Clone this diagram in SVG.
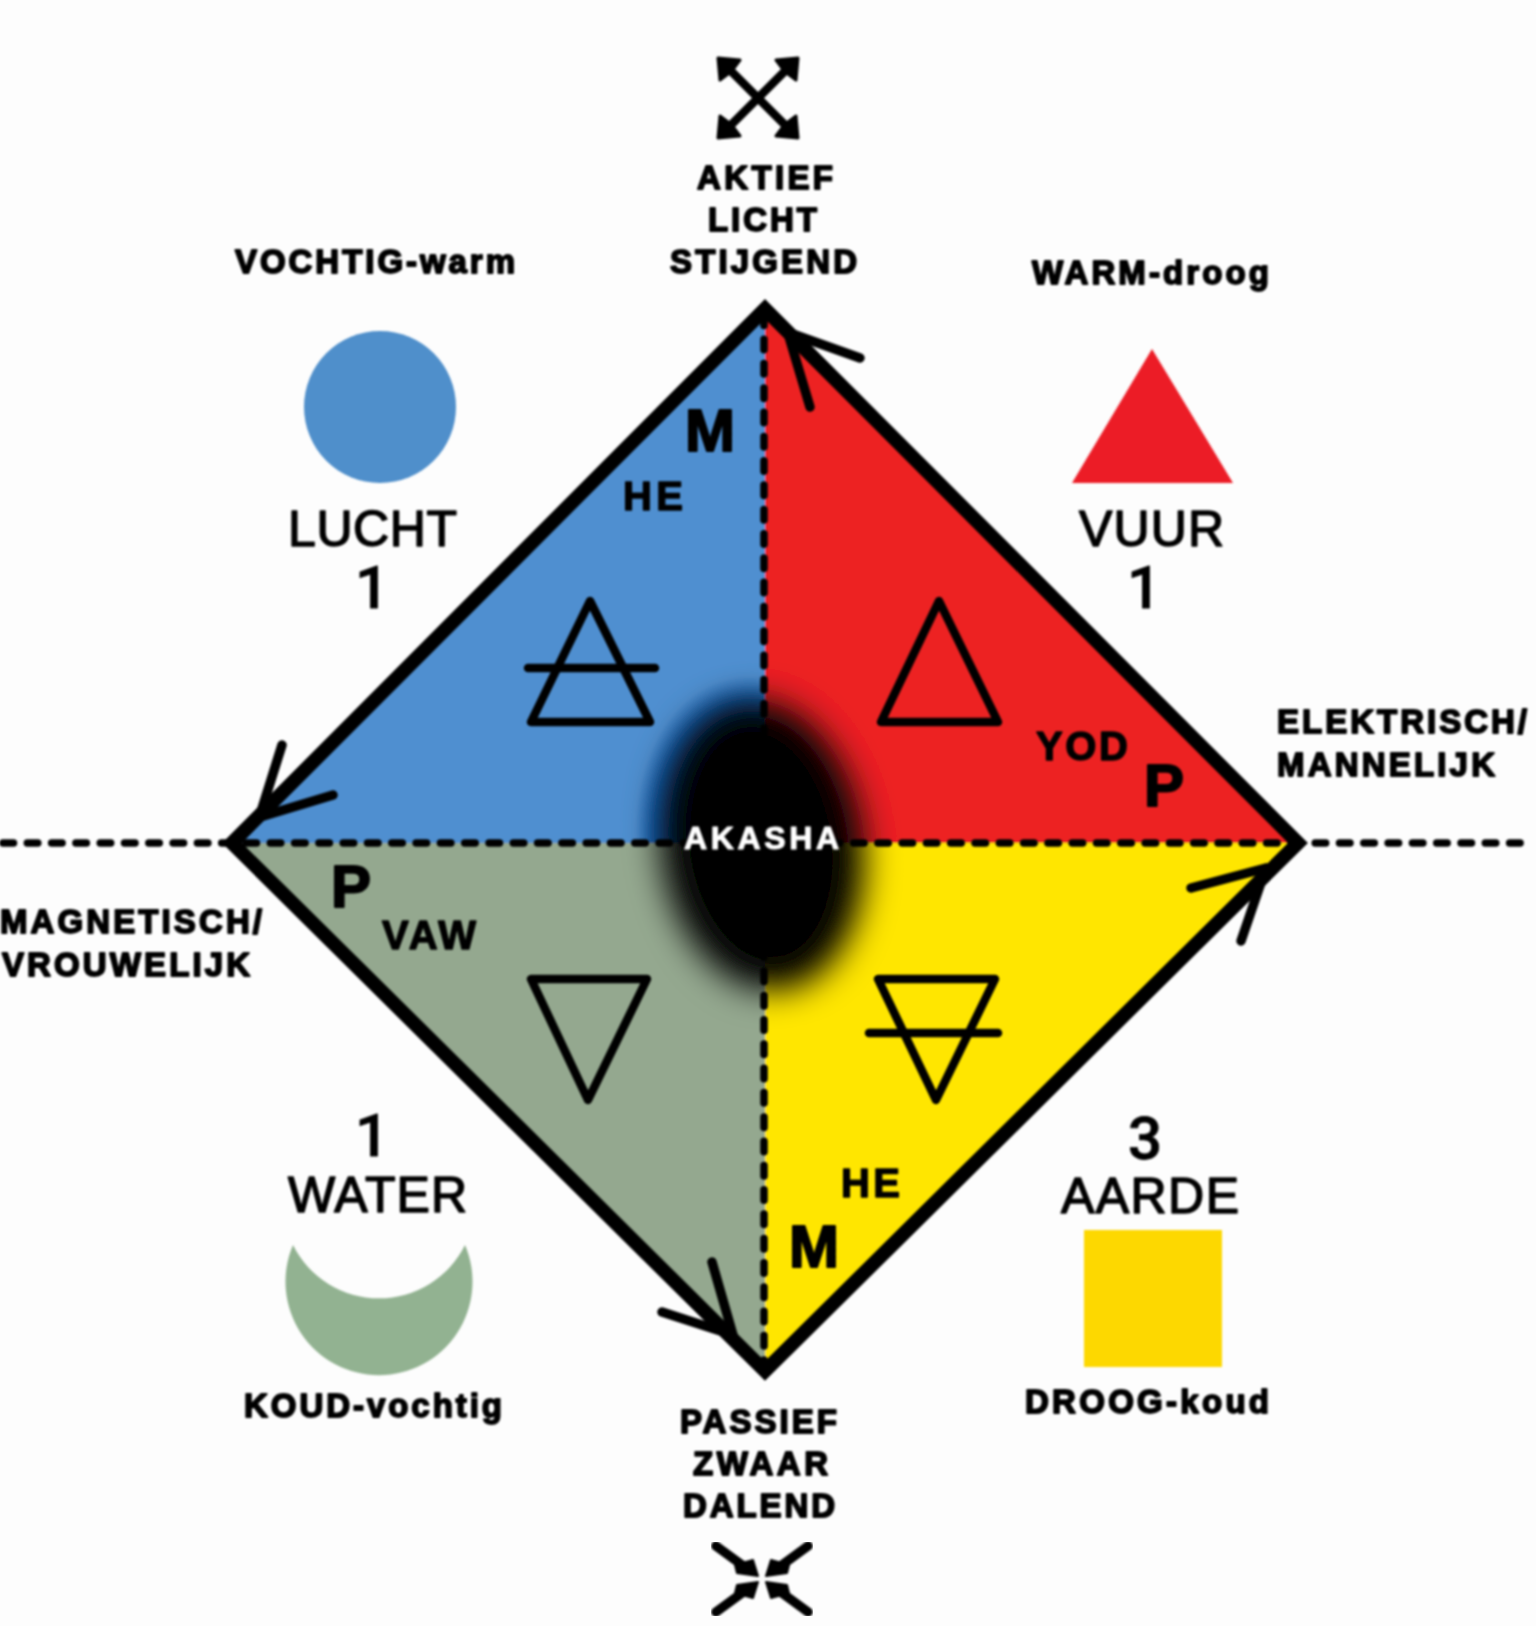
<svg xmlns="http://www.w3.org/2000/svg" xmlns:xlink="http://www.w3.org/1999/xlink" width="1536" height="1626" viewBox="0 0 1536 1626">
<style>
text{font-family:"Liberation Sans",Arial,sans-serif;fill:#000;stroke:#000;stroke-linejoin:round}
.cap{font-size:33px;font-weight:700;stroke-width:1.8px}
.big{font-size:50px;font-weight:400;stroke-width:1.5px}
.num{font-family:Roboto,"Liberation Sans",sans-serif;font-size:60px;font-weight:500;stroke-width:.8px}
.mark{font-size:60px;font-weight:700;stroke-width:2px}
.syl{font-size:40px;font-weight:700;stroke-width:1.4px}
.ak{fill:#fff;stroke:#fff;font-size:32px;font-weight:700;stroke-width:1px}
.sym{fill:none;stroke:#000;stroke-width:8.5;stroke-linejoin:round}
.bar{fill:none;stroke:#000;stroke-width:8.5;stroke-linecap:round}
.barb{fill:none;stroke:#000;stroke-width:9.5;stroke-linecap:round}
.dash{fill:none;stroke:#000;stroke-width:7.5;stroke-linecap:round;stroke-dasharray:10.5 13.8}
.soft{filter:url(#soft)}
</style>
<defs>
<filter id="soft" x="-5%" y="-5%" width="110%" height="110%"><feGaussianBlur stdDeviation="0.8"/></filter>
<filter id="glowblur" x="-40%" y="-40%" width="180%" height="180%"><feGaussianBlur stdDeviation="17"/></filter>
<radialGradient id="bluehalo">
<stop offset=".6" stop-color="#0f66c4"/>
<stop offset=".85" stop-color="#1a6cc4"/>
<stop offset="1" stop-color="#1a6cc4" stop-opacity="0"/>
</radialGradient>
<clipPath id="airclip"><polygon points="765,309 765,843 232,843"/></clipPath>
<g id="outArrow"><path d="M-35,-35L0,0" fill="none" stroke="#000" stroke-width="8.5"/><path d="M-40,-40L-18,-38L-24,-30L-30,-24L-38,-18Z" fill="#000" stroke="#000" stroke-width="3" stroke-linejoin="round"/></g>
<g id="inArrow"><path d="M-46,-33L-20,-14" fill="none" stroke="#000" stroke-width="9.5" stroke-linecap="round"/><path d="M-27,-14L-9,-19L-4,-3L-25,-6Z" fill="#000" stroke="#000" stroke-width="2" stroke-linejoin="round"/></g>
</defs>
<rect width="1536" height="1626" fill="#fdfdfd"/>

<g id="quadrants" class="soft">
<polygon id="q-air" points="765,309 765,843 232,843" fill="#4f8fd0"/>
<polygon id="q-fire" points="765,309 1298,843 765,843" fill="#ed2024"/>
<polygon id="q-water" points="232,843 765,843 765,1371" fill="#94a88f"/>
<polygon id="q-earth" points="765,843 1298,843 765,1371" fill="#ffe600"/>
<g clip-path="url(#airclip)"><ellipse cx="760" cy="845" rx="124" ry="170" fill="url(#bluehalo)" transform="rotate(-8 760 845)"/></g>
<ellipse id="akasha-glow" cx="762" cy="845" rx="101" ry="146" fill="#000" filter="url(#glowblur)" transform="rotate(-8 762 845)"/>
</g>

<g id="connectors" class="soft">
<path class="dash" d="M3,843H1530"/>
<path class="dash" d="M764,315V1371"/>
<polygon points="765,309 1298,843 765,1371 232,843" fill="none" stroke="#000" stroke-width="14" stroke-linejoin="miter"/>
<path class="barb" d="M860,358L787,332M810,407L787,330"/>
<path class="barb" d="M282,745L260,815M333,795L260,817"/>
<path class="barb" d="M712,1262L733,1335M662,1312L733,1335"/>
<path class="barb" d="M1191,888L1266,868M1241,941L1266,868"/>
</g>

<g id="icon-active" class="soft">
<use xlink:href="#outArrow" href="#outArrow" transform="translate(758,98)"/>
<use xlink:href="#outArrow" href="#outArrow" transform="translate(758,98) scale(-1,1)"/>
<use xlink:href="#outArrow" href="#outArrow" transform="translate(758,98) scale(1,-1)"/>
<use xlink:href="#outArrow" href="#outArrow" transform="translate(758,98) scale(-1,-1)"/>
</g>
<g id="icon-passive" class="soft">
<use xlink:href="#inArrow" href="#inArrow" transform="translate(762,1579)"/>
<use xlink:href="#inArrow" href="#inArrow" transform="translate(762,1579) scale(-1,1)"/>
<use xlink:href="#inArrow" href="#inArrow" transform="translate(762,1579) scale(1,-1)"/>
<use xlink:href="#inArrow" href="#inArrow" transform="translate(762,1579) scale(-1,-1)"/>
</g>

<g id="node-lucht" class="soft">
<circle cx="380" cy="407" r="76" fill="#4f8fcb"/>
<text class="cap" x="235" y="273" textLength="280">VOCHTIG-warm</text>
<text class="big" x="288" y="546" textLength="169">LUCHT</text>
<text class="num" x="355" y="608">1</text>
<polygon class="sym" points="590,601 531,722 650,722"/>
<path class="bar" d="M528,668H655"/>
<text class="mark" x="685" y="451" textLength="50">M</text>
<text class="syl" x="623" y="510" textLength="60">HE</text>
</g>

<g id="node-vuur" class="soft">
<polygon points="1152,349 1072,483 1233,483" fill="#ec1f26"/>
<text class="cap" x="1032" y="284" textLength="237">WARM-droog</text>
<text class="big" x="1079" y="546" textLength="145">VUUR</text>
<text class="num" x="1127" y="608">1</text>
<polygon class="sym" points="939,601 881,722 998,722"/>
<text class="syl" x="1036" y="760" textLength="92">YOD</text>
<text class="mark" x="1144" y="806" textLength="38">P</text>
</g>

<g id="node-water" class="soft">
<path d="M293,1245A93.500,93.500 0 1 0 465,1245A96,96 0 0 1 293,1245Z" fill="#92b291"/>
<text class="num" x="355" y="1156">1</text>
<text class="big" x="288" y="1212" textLength="179">WATER</text>
<text class="cap" x="244" y="1417" textLength="258">KOUD-vochtig</text>
<polygon class="sym" points="531,979 647,979 588,1100"/>
<text class="mark" x="331" y="907" textLength="38">P</text>
<text class="syl" x="382" y="949" textLength="94">VAW</text>
</g>

<g id="node-aarde" class="soft">
<rect x="1084" y="1230" width="138" height="137" fill="#fdd800"/>
<text class="num" x="1128" y="1159" textLength="34">3</text>
<text class="big" x="1061" y="1213" textLength="178">AARDE</text>
<text class="cap" x="1025" y="1413" textLength="244">DROOG-koud</text>
<polygon class="sym" points="878,979 995,979 936,1100"/>
<path class="bar" d="M869,1033H998"/>
<text class="mark" x="789" y="1267" textLength="50">M</text>
<text class="syl" x="841" y="1197" textLength="59">HE</text>
</g>

<g id="label-top" class="soft">
<text class="cap" x="697" y="189" textLength="136">AKTIEF</text>
<text class="cap" x="708" y="231" textLength="109">LICHT</text>
<text class="cap" x="670" y="273" textLength="187">STIJGEND</text>
</g>
<g id="label-right" class="soft">
<text class="cap" x="1277" y="733" textLength="250">ELEKTRISCH/</text>
<text class="cap" x="1277" y="776" textLength="218">MANNELIJK</text>
</g>
<g id="label-left" class="soft">
<text class="cap" x="0" y="933" textLength="262">MAGNETISCH/</text>
<text class="cap" x="2" y="976" textLength="248">VROUWELIJK</text>
</g>
<g id="label-bottom" class="soft">
<text class="cap" x="680" y="1433" textLength="157">PASSIEF</text>
<text class="cap" x="693" y="1475" textLength="135">ZWAAR</text>
<text class="cap" x="683" y="1517" textLength="152">DALEND</text>
</g>
<g id="node-akasha" class="soft">
<text class="ak" x="684" y="849" textLength="155">AKASHA</text>
</g>
</svg>
